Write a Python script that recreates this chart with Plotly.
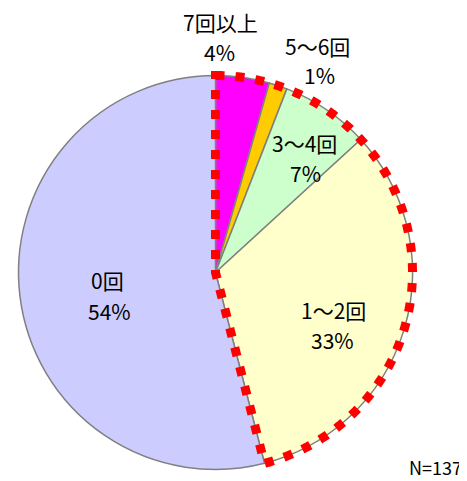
import numpy as np
import plotly.graph_objects as go

labels = ['7回以上', '5～6回', '3～4回', '1～2回', '0回']
shares = [4.4, 1.5, 7.3, 32.8, 54.0]          # slice sizes
pct_labels = ['4%', '1%', '7%', '33%', '54%']  # printed percentages
colors = ['#FF00FF', '#FFCC00', '#CCFFCC', '#FFFFCC', '#CCCCFF']
n_text = 'N=137'
highlight_slices = ['7回以上', '5～6回', '3～4回', '1～2回']

# label centres in window pixels: (x_label, y_label, x_pct, y_pct)
label_px = [(220, 22, 219, 52), (317, 46, 319, 75), (304, 143, 305, 173),
            (333, 310, 332, 340), (107, 280, 109, 311)]

OFF = 8                      # page body margin of the browser
W, H = 467 - OFF, 481 - OFF  # figure size
CX, CY, R = 215.5 - OFF, 272.5 - OFF, 197.0  # pie centre / radius in figure pixels


def px(x):
    return (x - OFF) / W


def py(y):
    return 1 - (y - OFF) / H


fig = go.Figure()
fig.add_trace(go.Pie(
    labels=labels, values=shares, sort=False, direction='clockwise', rotation=0,
    marker=dict(colors=colors, line=dict(color='#808080', width=1.5)),
    textinfo='none', hoverinfo='skip', showlegend=False,
    domain=dict(x=[(CX - R) / W, (CX + R) / W], y=[1 - (CY + R) / H, 1 - (CY - R) / H])
))
# invisible trace to create the x/y axes used by the outline shape
fig.add_trace(go.Scatter(x=[0], y=[0], mode='markers', marker=dict(opacity=0),
                         hoverinfo='skip', showlegend=False))

# red dotted outline around the highlighted slices, computed from the data
frac = sum(s for l, s in zip(labels, shares) if l in highlight_slices) / sum(shares)
theta = np.linspace(0, 2 * np.pi * frac, 300)
pts = [(0.0, 1.0)] + [(np.sin(t), np.cos(t)) for t in theta[1:]] + [(0.0, 0.0)]
path = 'M ' + ' L '.join(f'{x:.5f},{y:.5f}' for x, y in pts) + ' Z'
fig.add_shape(type='path', path=path, xref='x', yref='y', layer='above',
              line=dict(color='#FF0000', width=9, dash='9px,11px'))

font = dict(family='Noto Sans CJK JP', size=21, color='#000000')
for lab, pl, (x1, y1, x2, y2) in zip(labels, pct_labels, label_px):
    fig.add_annotation(x=px(x1), y=py(y1), xref='paper', yref='paper', text=lab,
                       showarrow=False, font=font, xanchor='center', yanchor='middle')
    fig.add_annotation(x=px(x2), y=py(y2), xref='paper', yref='paper', text=pl,
                       showarrow=False, font=font, xanchor='center', yanchor='middle')
fig.add_annotation(x=px(464), y=py(467), xref='paper', yref='paper',
                   text=n_text, showarrow=False, xanchor='right', yanchor='middle',
                   font=dict(family='Noto Sans CJK JP', size=18, color='#000000'))

fig.update_layout(
    width=W, height=H,
    margin=dict(l=0, r=0, t=0, b=0, pad=0),
    paper_bgcolor='white', plot_bgcolor='rgba(0,0,0,0)',
    xaxis=dict(range=[-CX / R, (W - CX) / R], visible=False, fixedrange=True),
    yaxis=dict(range=[-(H - CY) / R, CY / R], visible=False, fixedrange=True),
)
fig.write_html('out.html')
